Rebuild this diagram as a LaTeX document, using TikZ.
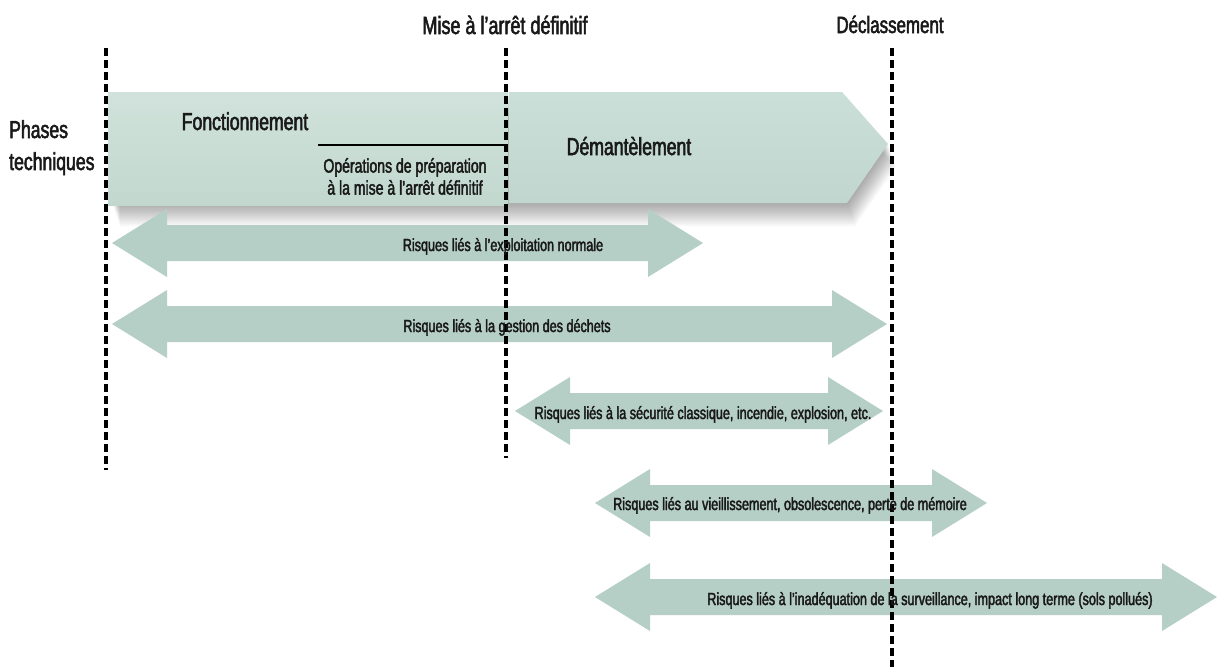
\documentclass[tikz,border=0pt]{standalone}
\usepackage{fontspec}
\setmainfont{Liberation Sans}[FakeStretch=0.72, FakeBold=2.2]
\definecolor{riskfill}{RGB}{182,207,198}
\definecolor{bandtop}{RGB}{208,226,219}
\definecolor{bandmid}{RGB}{232,240,237}
\definecolor{bandbot}{RGB}{194,216,207}
\definecolor{demtop}{RGB}{202,223,215}
\definecolor{demmid}{RGB}{220,234,229}
\definecolor{dembot}{RGB}{192,214,206}
\definecolor{txt}{RGB}{25,25,25}
\tikzset{
  riskarrow/.style={fill=riskfill},
  milestone/.style={draw=black, line width=3.4pt, dash pattern=on 8pt off 4pt},
  lbl/.style={text=txt, inner sep=0pt, anchor=base},
  risklbl/.style={lbl, font=\fontsize{17.5}{20}\selectfont},
  headlbl/.style={lbl, font=\fontsize{25}{30}\selectfont},
  phaselbl/.style={lbl, font=\fontsize{24.5}{32}\selectfont},
  smalllbl/.style={lbl, font=\fontsize{19.5}{22}\selectfont, align=center},
}
\newcommand\dblarr[3]{%
  \fill[riskarrow] (#1,#3) -- ({#1+55},{#3-34}) -- ({#1+55},{#3-18}) -- ({#2-55},{#3-18})
    -- ({#2-55},{#3-34}) -- (#2,#3) -- ({#2-55},{#3+34}) -- ({#2-55},{#3+18})
    -- ({#1+55},{#3+18}) -- ({#1+55},{#3+34}) -- cycle;}
\newcommand\dempath{(509,92) -- (842,92) -- (888,144) -- (847,203) -- (509,203) -- cycle}
\newcommand\allpath{(112,92) -- (842,92) -- (888,144) -- (847,203) -- (112,203) -- cycle}
\begin{document}
\begin{tikzpicture}[x=1pt,y=-1pt]
\useasboundingbox (0,0) rectangle (1218,667);
\fill[white] (0,0) rectangle (1218,667);
% soft shadow
\foreach \o in {1,2,...,18}{
  \fill[black, opacity=0.018, shift={(\o*0.45,\o*1.3)}] \allpath;
}
% band
\shade[top color=bandtop, middle color=bandmid, bottom color=bandbot] (108,92) rectangle (508,205);
\shade[top color=demtop, middle color=demmid, bottom color=dembot] \dempath;
\draw[line width=1.6pt] (318,145) -- (506,145);
% risk arrows
\dblarr{112}{703}{243}
\dblarr{112}{887}{324}
\dblarr{515}{883}{411}
\dblarr{595}{987}{503}
\dblarr{595}{1217}{597}
% milestones
\coordinate (l1t) at (106,48); \coordinate (l1b) at (106,470);
\coordinate (l2t) at (506,48); \coordinate (l2b) at (506,458);
\coordinate (l3t) at (892,48); \coordinate (l3b) at (892,667);
\draw[milestone] (l1t) -- (l1b);
\draw[milestone] (l2t) -- (l2b);
\draw[milestone] (l3t) -- (l3b);
% labels
\node[headlbl] (mise) at (505,34) {Mise à l’arrêt définitif};
\node[headlbl, font=\fontsize{23.5}{28}\selectfont] (decl) at (890,33) {Déclassement};
\node[phaselbl, anchor=base west, align=left] (phases) at (9,170) {Phases\\techniques};
\node[phaselbl] (fonc) at (245,130) {Fonctionnement};
\node[phaselbl] (dem) at (629,155) {Démantèlement};
\node[smalllbl, anchor=north] (prep) at (405,158) {Opérations de préparation\\à la mise à l’arrêt définitif};
\node[risklbl] (r1) at (503,251) {Risques liés à l’exploitation normale};
\node[risklbl] (r2) at (507,332) {Risques liés à la gestion des déchets};
\node[risklbl] (r3) at (703,419) {Risques liés à la sécurité classique, incendie, explosion, etc.};
\node[risklbl] (r4) at (790,510) {Risques liés au vieillissement, obsolescence, perte de mémoire};
\node[risklbl] (r5) at (930,605) {Risques liés à l’inadéquation de la surveillance, impact long terme (sols pollués)};
\end{tikzpicture}
\end{document}
